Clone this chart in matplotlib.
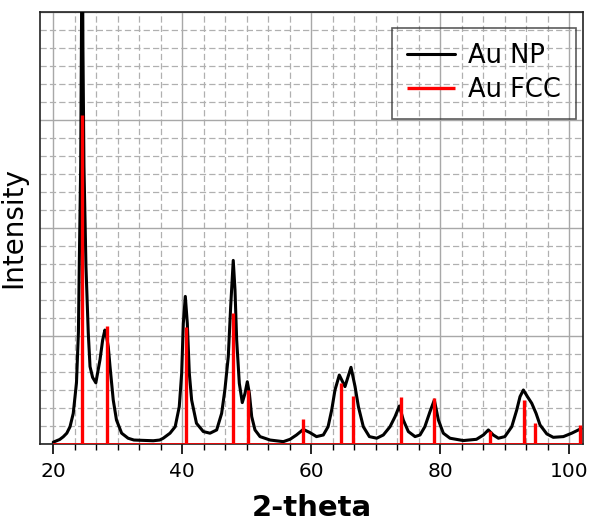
import matplotlib
matplotlib.use('Agg')
import matplotlib.pyplot as plt
from matplotlib.ticker import MultipleLocator, NullFormatter

# Au NP pattern
theta = [20.0, 21.0, 21.55, 22.1, 22.6, 23.1, 23.6, 23.9, 24.03, 24.25, 24.4, 24.5,
         24.6, 24.76, 25.07, 25.43, 25.7, 26.1, 26.6, 27.24, 27.66, 28.0, 28.2, 28.53,
         28.8, 29.3, 29.8, 30.6, 31.6, 32.5, 34.0, 35.5, 36.5, 37.05, 38.1, 38.9,
         39.53, 39.9, 40.16, 40.47, 40.78, 41.09, 41.45, 42.2, 43.26, 44.3, 45.33,
         46.1, 46.6, 47.13, 47.5, 47.9, 48.17, 48.43, 48.84, 49.3, 49.72, 50.08,
         50.4, 50.76, 51.27, 52.05, 53.6, 55.66, 56.7, 57.7, 58.76, 59.8, 60.8,
         61.86, 62.6, 63.16, 63.67, 64.34, 65.22, 66.15, 66.78, 67.3, 68.06, 69.0,
         70.14, 71.16, 72.2, 72.98, 73.65, 74.26, 75.04, 76.08, 76.85, 77.6, 78.4,
         79.07, 79.7, 80.46, 81.5, 83.56, 85.6, 86.67, 87.44, 88.2, 89.0, 90.0,
         91.07, 91.84, 92.35, 92.87, 93.5, 94.17, 94.84, 95.45, 96.5, 97.5, 99.07,
         100.37, 101.4, 101.8]
intensity = [0.1, 0.25, 0.4, 0.6, 0.96, 1.7, 3.4, 6.2, 9.85, 15.4, 24.5, 30.0,
             22.0, 15.4, 9.85, 6.15, 4.3, 3.7, 3.4, 4.67, 5.78, 6.33, 6.1, 5.4,
             4.3, 2.44, 1.33, 0.6, 0.32, 0.22, 0.2, 0.18, 0.22, 0.32, 0.6, 0.96,
             2.07, 3.9, 6.7, 8.2, 6.7, 3.93, 2.44, 1.15, 0.69, 0.6, 0.78,
             1.7, 3.0, 4.85, 7.63, 10.2, 8.56, 5.78, 3.37, 2.3, 2.81, 3.46,
             2.81, 1.52, 0.78, 0.41, 0.22, 0.13, 0.26, 0.5, 0.81, 0.63, 0.41,
             0.5, 0.96, 1.89, 3.0, 3.83, 3.19, 4.26, 3.19, 2.07, 0.96, 0.41,
             0.32, 0.5, 0.96, 1.52, 2.11, 1.33, 0.69, 0.41, 0.5, 0.96, 1.8,
             2.44, 1.33, 0.6, 0.32, 0.19, 0.26, 0.5, 0.78, 0.5, 0.32, 0.41,
             0.96, 1.89, 2.63, 3.0, 2.63, 2.26, 1.7, 1.06, 0.56, 0.37, 0.41,
             0.6, 0.78, 0.85]

# Au FCC reference lines
fcc_pos = [24.5, 28.37, 40.57, 47.9, 50.23, 58.66, 64.55, 66.45, 73.86, 79.07,
           87.7, 92.98, 94.72, 101.66]
fcc_int = [18.28, 6.56, 6.48, 7.3, 3.0, 1.37, 3.41, 2.67, 2.59, 2.54,
           0.72, 2.44, 1.15, 1.06]

fig = plt.figure(figsize=(5.93, 5.24), dpi=100)
ax = fig.add_axes([0.0675, 0.1527, 0.9155, 0.8243])

ax.plot(theta, intensity, color='black', linewidth=2.2, label='Au NP', zorder=3,
        solid_joinstyle='round', solid_capstyle='round')
ax.vlines(fcc_pos, 0, fcc_int, color='#ff0000', linewidth=2.4, label='Au FCC', zorder=4)
ax.hlines(0, 20, 102, color='#ff0000', linewidth=1.2, zorder=4)

ax.set_xlim(17.95, 102.1)
ax.set_ylim(0, 24)

ax.xaxis.set_major_locator(MultipleLocator(20))
ax.xaxis.set_minor_locator(MultipleLocator(20 / 6))
ax.yaxis.set_major_locator(MultipleLocator(6))
ax.yaxis.set_minor_locator(MultipleLocator(1))
ax.yaxis.set_major_formatter(NullFormatter())

ax.tick_params(axis='x', which='major', direction='out', length=7, width=1.2,
               labelsize=14.5, pad=6)
ax.tick_params(axis='x', which='minor', direction='out', length=4.5, width=1.0)
ax.tick_params(axis='y', which='both', length=0)

ax.grid(True, which='major', color='#a8a8a8', linestyle='-', linewidth=1.0, zorder=0)
ax.grid(True, which='minor', color='#b0b0b0', linestyle=(0, (5, 2.5)), linewidth=0.9, zorder=0)
ax.set_axisbelow(True)

for sp in ax.spines.values():
    sp.set_color('#222222')
    sp.set_linewidth(1.2)

ax.set_xlabel('2-theta', fontsize=21, fontweight='bold', labelpad=9)
ax.set_ylabel('Intensity', fontsize=20, labelpad=6)

leg = ax.legend(loc='upper right', bbox_to_anchor=(0.987, 0.963), borderaxespad=0,
                fontsize=18.5, frameon=True, fancybox=False, handlelength=1.85,
                handletextpad=0.5, labelspacing=0.3, borderpad=0.6)
leg.get_frame().set_facecolor('none')
leg.get_frame().set_edgecolor('#333333')
leg.get_frame().set_linewidth(1.2)

plt.savefig('out.png', dpi=100)
